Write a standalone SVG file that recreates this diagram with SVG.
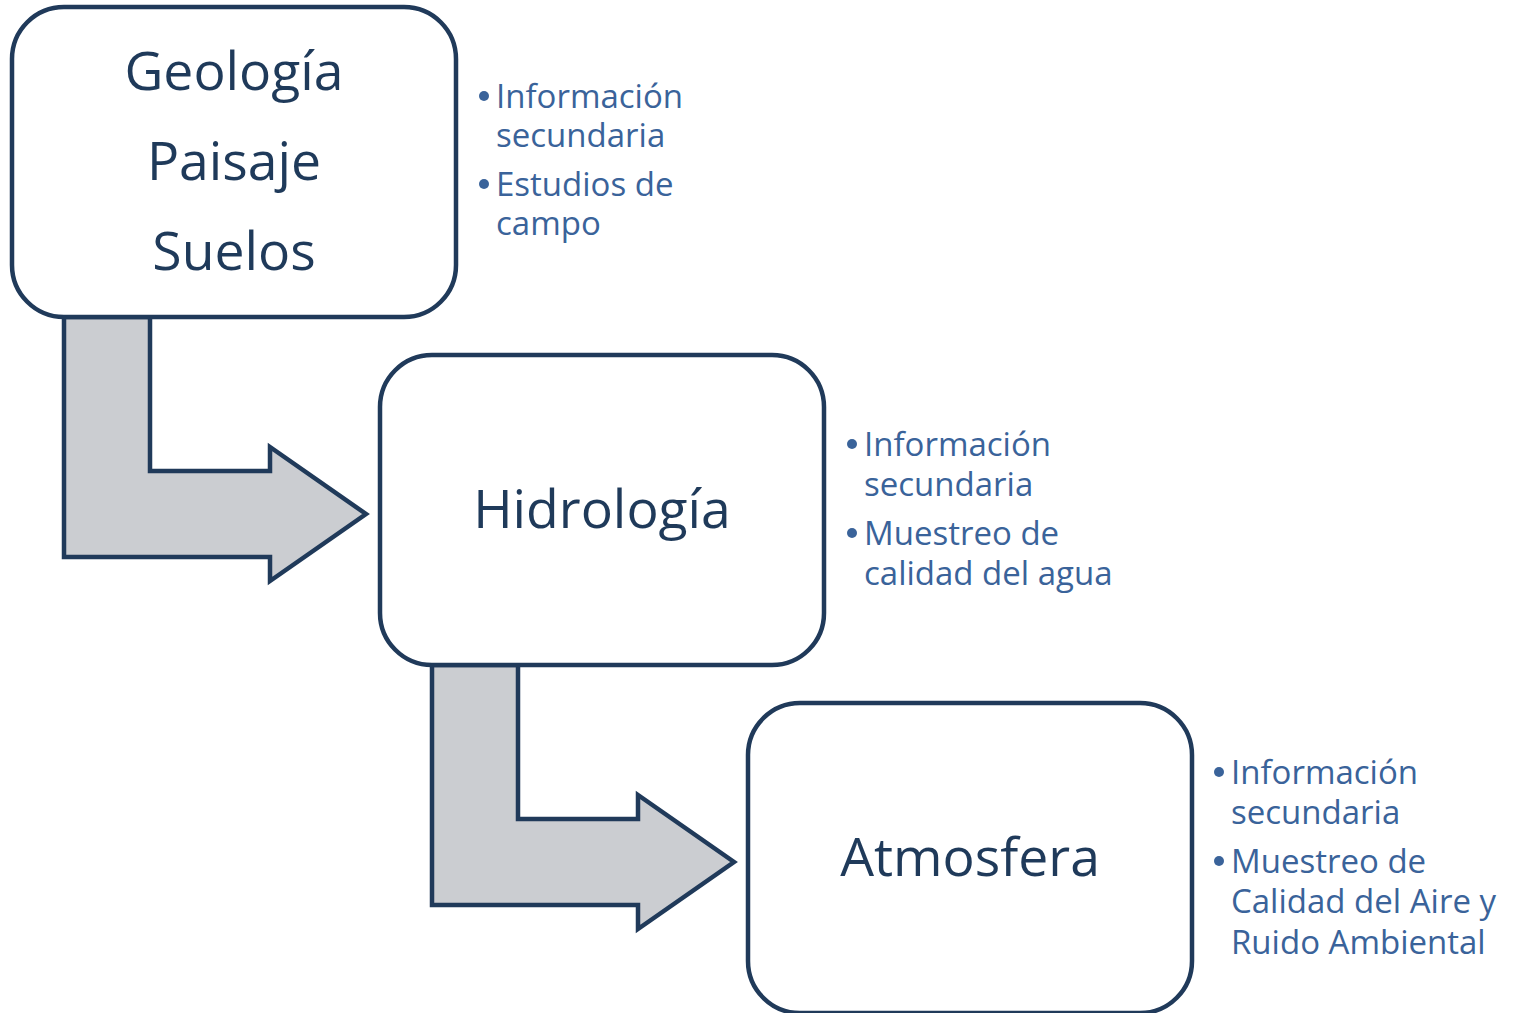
<svg xmlns="http://www.w3.org/2000/svg" width="1514" height="1013" viewBox="0 0 1514 1013">
<style>
.box{fill:#ffffff;stroke:#203a5a;stroke-width:4.5}
.arr{fill:#cbcdd1;stroke:#203a5a;stroke-width:4.5;stroke-linejoin:miter}
.main{font-family:"Open Sans","Liberation Sans",sans-serif;font-size:53.5px;fill:#1f3a5a;text-anchor:middle}
.side{font-family:"Open Sans","Liberation Sans",sans-serif;font-size:33px;fill:#3a639a}
.dot{fill:#3a639a}
</style>
<rect width="1514" height="1013" fill="#ffffff"/>
<g id="connectors">
<path class="arr" d="M64,317 L150,317 L150,471 L270,471 L270,447 L366,514 L270,581 L270,557 L64,557 Z"/>
<path class="arr" d="M432,665 L518,665 L518,819 L638,819 L638,795 L734,862 L638,929 L638,905 L432,905 Z"/>
</g>
<g id="node-geologia">
<rect class="box" x="12" y="7" width="444" height="310" rx="52" ry="52"/>
<text class="main" x="234" y="90">Geología</text>
<text class="main" x="234" y="180">Paisaje</text>
<text class="main" x="234" y="270">Suelos</text>
</g>
<g id="notes-geologia">
<circle class="dot" cx="484" cy="96" r="5"/>
<text class="side" x="496" y="108">Información</text>
<text class="side" x="496" y="147">secundaria</text>
<circle class="dot" cx="484" cy="184" r="5"/>
<text class="side" x="496" y="196">Estudios de</text>
<text class="side" x="496" y="235">campo</text>
</g>
<g id="node-hidrologia">
<rect class="box" x="380" y="355" width="444" height="310" rx="52" ry="52"/>
<text class="main" x="602" y="528">Hidrología</text>
</g>
<g id="notes-hidrologia">
<circle class="dot" cx="852" cy="444" r="5"/>
<text class="side" x="864" y="456">Información</text>
<text class="side" x="864" y="496">secundaria</text>
<circle class="dot" cx="852" cy="533" r="5"/>
<text class="side" x="864" y="545">Muestreo de</text>
<text class="side" x="864" y="585">calidad del agua</text>
</g>
<g id="node-atmosfera">
<rect class="box" x="748" y="703" width="444" height="310" rx="52" ry="52"/>
<text class="main" x="970" y="876">Atmosfera</text>
</g>
<g id="notes-atmosfera">
<circle class="dot" cx="1219" cy="772" r="5"/>
<text class="side" x="1231" y="784">Información</text>
<text class="side" x="1231" y="824">secundaria</text>
<circle class="dot" cx="1219" cy="861" r="5"/>
<text class="side" x="1231" y="873">Muestreo de</text>
<text class="side" x="1231" y="913">Calidad del Aire y</text>
<text class="side" x="1231" y="954">Ruido Ambiental</text>
</g>
</svg>
